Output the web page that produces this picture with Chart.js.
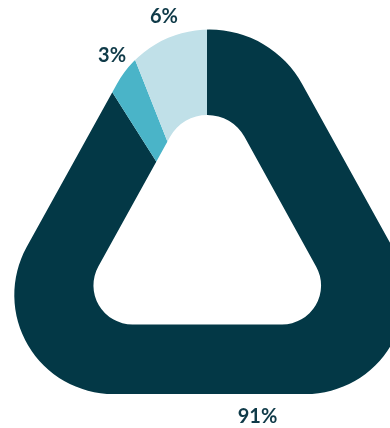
<!DOCTYPE html>
<html>
<head>
<meta charset="utf-8">
<script src="https://cdn.jsdelivr.net/npm/chart.js@4"></script>
<style>
  html, body { margin: 0; padding: 0; background: #ffffff; }
  #frame { position: relative; width: 390px; height: 428px; overflow: hidden; background: #ffffff; }
  /* the canvas is larger than the frame so the pie can cover the whole triangular ring */
  #chart { position: absolute; left: -143px; top: -109px; }
</style>
</head>
<body>
<div id="frame"><canvas id="chart" width="700" height="701"></canvas></div>
<script>
// Data
const categories = ['A', 'B', 'C'];
const shares = [91, 3, 6];
const shareLabels = shares.map(v => v + '%');

// Styling
const sliceColors = ['#033846', '#4ab4c8', '#c0e0e8'];
const labelColor = '#0f3a48';
const labelFont = '700 20px Lato, "Open Sans", sans-serif';
const labelGap = 22;

// Rounded triangle ring (offsets from the pie centre)
const outerRing = { apex: [2.5, -325], left: [-261.6, 152.5], right: [266.6, 152.5], radii: [106, 99, 99] };
const innerRing = { apex: [0.3, -171.9], left: [-140.7, 83], right: [141.2, 83], radii: [42.5, 39, 39] };

function addRoundedTriangle(path, cx, cy, shape) {
  const A = [cx + shape.apex[0], cy + shape.apex[1]];
  const L = [cx + shape.left[0], cy + shape.left[1]];
  const R = [cx + shape.right[0], cy + shape.right[1]];
  const [rA, rL, rR] = shape.radii;
  path.moveTo((L[0] + R[0]) / 2, (L[1] + R[1]) / 2);
  path.arcTo(R[0], R[1], A[0], A[1], rR);
  path.arcTo(A[0], A[1], L[0], L[1], rA);
  path.arcTo(L[0], L[1], R[0], R[1], rL);
  path.closePath();
}

const triangleRing = {
  id: 'triangleRing',
  beforeDatasetsDraw(chart) {
    const arc = chart.getDatasetMeta(0).data[0];
    const ring = new Path2D();
    addRoundedTriangle(ring, arc.x, arc.y, outerRing);
    addRoundedTriangle(ring, arc.x, arc.y, innerRing);
    chart.ctx.save();
    chart.ctx.clip(ring, 'evenodd');
  },
  afterDatasetsDraw(chart) {
    const ctx = chart.ctx;
    ctx.restore();
    const meta = chart.getDatasetMeta(0);
    const cx = meta.data[0].x, cy = meta.data[0].y;
    const outline = new Path2D();
    addRoundedTriangle(outline, cx, cy, outerRing);
    ctx.save();
    ctx.font = labelFont;
    ctx.fillStyle = labelColor;
    ctx.textAlign = 'center';
    ctx.textBaseline = 'alphabetic';
    meta.data.forEach((el, i) => {
      const mid = (el.startAngle + el.endAngle) / 2;
      const dx = Math.cos(mid), dy = Math.sin(mid);
      let t = 0;
      while (t < 500 && ctx.isPointInPath(outline, cx + dx * t, cy + dy * t)) t += 0.5;
      t += labelGap;
      ctx.fillText(shareLabels[i], cx + dx * t, cy + dy * t + 7.2);
    });
    ctx.restore();
  }
};

new Chart(document.getElementById('chart'), {
  type: 'doughnut',
  data: {
    labels: categories,
    datasets: [{
      data: shares,
      backgroundColor: sliceColors,
      borderWidth: 0,
      hoverOffset: 0
    }]
  },
  options: {
    responsive: false,
    animation: false,
    events: [],
    cutout: 0,
    rotation: 0,
    layout: { padding: 0 },
    plugins: { legend: { display: false }, tooltip: { enabled: false } }
  },
  plugins: [triangleRing]
});
</script>
</body>
</html>
